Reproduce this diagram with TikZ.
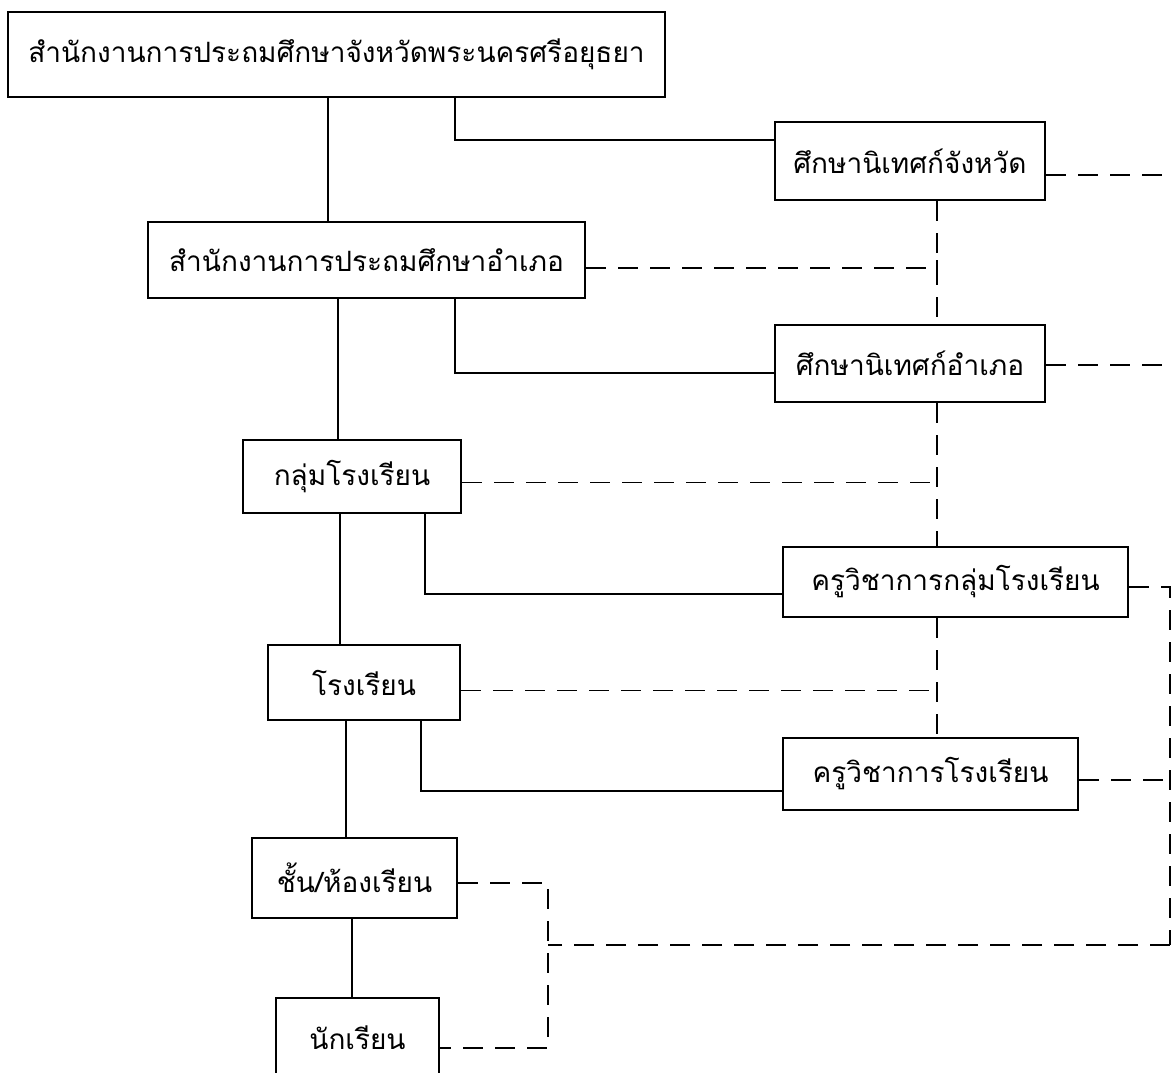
\documentclass[tikz,border=0pt]{standalone}
\usepackage{fontspec}
\newfontfamily\thai[Script=Thai]{Loma}
\usetikzlibrary{calc}
\begin{document}
\begin{tikzpicture}[x=1pt,y=-1pt,
  box/.style={draw,line width=2.4pt,rectangle,inner sep=0pt,font=\thai\fontsize{28}{32}\selectfont},
  solidline/.style={line width=2pt},
  dashline/.style={line width=1.4pt,dash pattern=on 20pt off 12pt}]
\useasboundingbox (0,0) rectangle (1173,1073);
\begin{scope}
\clip (0,0) rectangle (1173,1073);
% boxes
\node[box,minimum width=657pt,minimum height=85pt] (b1) at (336.5,54.5) {สำนักงานการประถมศึกษาจังหวัดพระนครศรีอยุธยา};
\node[box,minimum width=270pt,minimum height=78pt] (b3) at (910,161) {ศึกษานิเทศก์จังหวัด};
\node[box,minimum width=437pt,minimum height=76pt] (b2) at (366.5,260) {สำนักงานการประถมศึกษาอำเภอ};
\node[box,minimum width=270pt,minimum height=77pt] (b4) at (910,363.5) {ศึกษานิเทศก์อำเภอ};
\node[box,minimum width=218pt,minimum height=73pt] (b5) at (352,476.5) {กลุ่มโรงเรียน};
\node[box,minimum width=345pt,minimum height=70pt] (b6) at (955.5,582) {ครูวิชาการกลุ่มโรงเรียน};
\node[box,minimum width=192pt,minimum height=75pt] (b7) at (364,682.5) {โรงเรียน};
\node[box,minimum width=295pt,minimum height=72pt] (b8) at (930.5,774) {ครูวิชาการโรงเรียน};
\node[box,minimum width=205pt,minimum height=80pt] (b9) at (354.5,878) {ชั้น/ห้องเรียน};
\node[box,minimum width=163pt,minimum height=80pt] (b10) at (357.5,1038) {นักเรียน};
% helper coordinates
\coordinate (x1) at (328,0);
\coordinate (x2) at (455,140);
\coordinate (x3) at (338,0);
\coordinate (x4) at (455,373);
\coordinate (x5) at (425,594);
\coordinate (x35) at (340,0);
\coordinate (x6) at (346,0);
\coordinate (x7) at (421,791);
\coordinate (x8) at (352,0);
\coordinate (vx) at (937,0);
\coordinate (rx) at (1170,0);
\coordinate (bx) at (548,0);
\coordinate (e1) at (1173,175);
\coordinate (e2) at (1173,365);
\coordinate (h1) at (0,945);
% solid connectors
\draw[solidline] (b1.south -| x1) -- (b2.north -| x1);
\draw[solidline] (b1.south -| x2) -- (x2) -- (x2 -| b3.west);
\draw[solidline] (b2.south -| x3) -- (b5.north -| x3);
\draw[solidline] (b2.south -| x4) -- (x4) -- (x4 -| b4.west);
\draw[solidline] (b5.south -| x35) -- (b7.north -| x35);
\draw[solidline] (b5.south -| x5) -- (x5) -- (x5 -| b6.west);
\draw[solidline] (b7.south -| x6) -- (b9.north -| x6);
\draw[solidline] (b7.south -| x7) -- (x7) -- (x7 -| b8.west);
\draw[solidline] (b9.south -| x8) -- (b10.north -| x8);
% dashed connectors
\draw[dashline] (b3.east |- e1) -- (e1);
\draw[dashline] (b4.east |- e2) -- (e2);
\draw[dashline] (b3.south -| vx) -- (b4.north -| vx);
\draw[dashline] (b4.south -| vx) -- (b6.north -| vx);
\draw[dashline] (b6.south -| vx) -- (b8.north -| vx);
\draw[dashline] ([yshift=-8pt]b2.east) -| (vx |- b2.center);
\draw[dashline] ([yshift=-6pt]b5.east) -- ([yshift=-6pt]b5.east -| vx);
\draw[dashline] ([yshift=-8pt]b7.east) -- ([yshift=-8pt]b7.east -| vx);
\draw[dashline] ([yshift=-5pt]b6.east) -- ([yshift=-5pt]b6.east -| rx) -- (rx |- h1);
\draw[dashline] ([yshift=-6pt]b8.east) -- ([yshift=-6pt]b8.east -| rx);
\draw[dashline] (rx |- h1) -- (bx |- h1);
\draw[dashline] ([yshift=-5pt]b9.east) -| ([yshift=-10pt]b10.east -| bx) -- ([yshift=-10pt]b10.east);
\end{scope}
\end{tikzpicture}
\end{document}
